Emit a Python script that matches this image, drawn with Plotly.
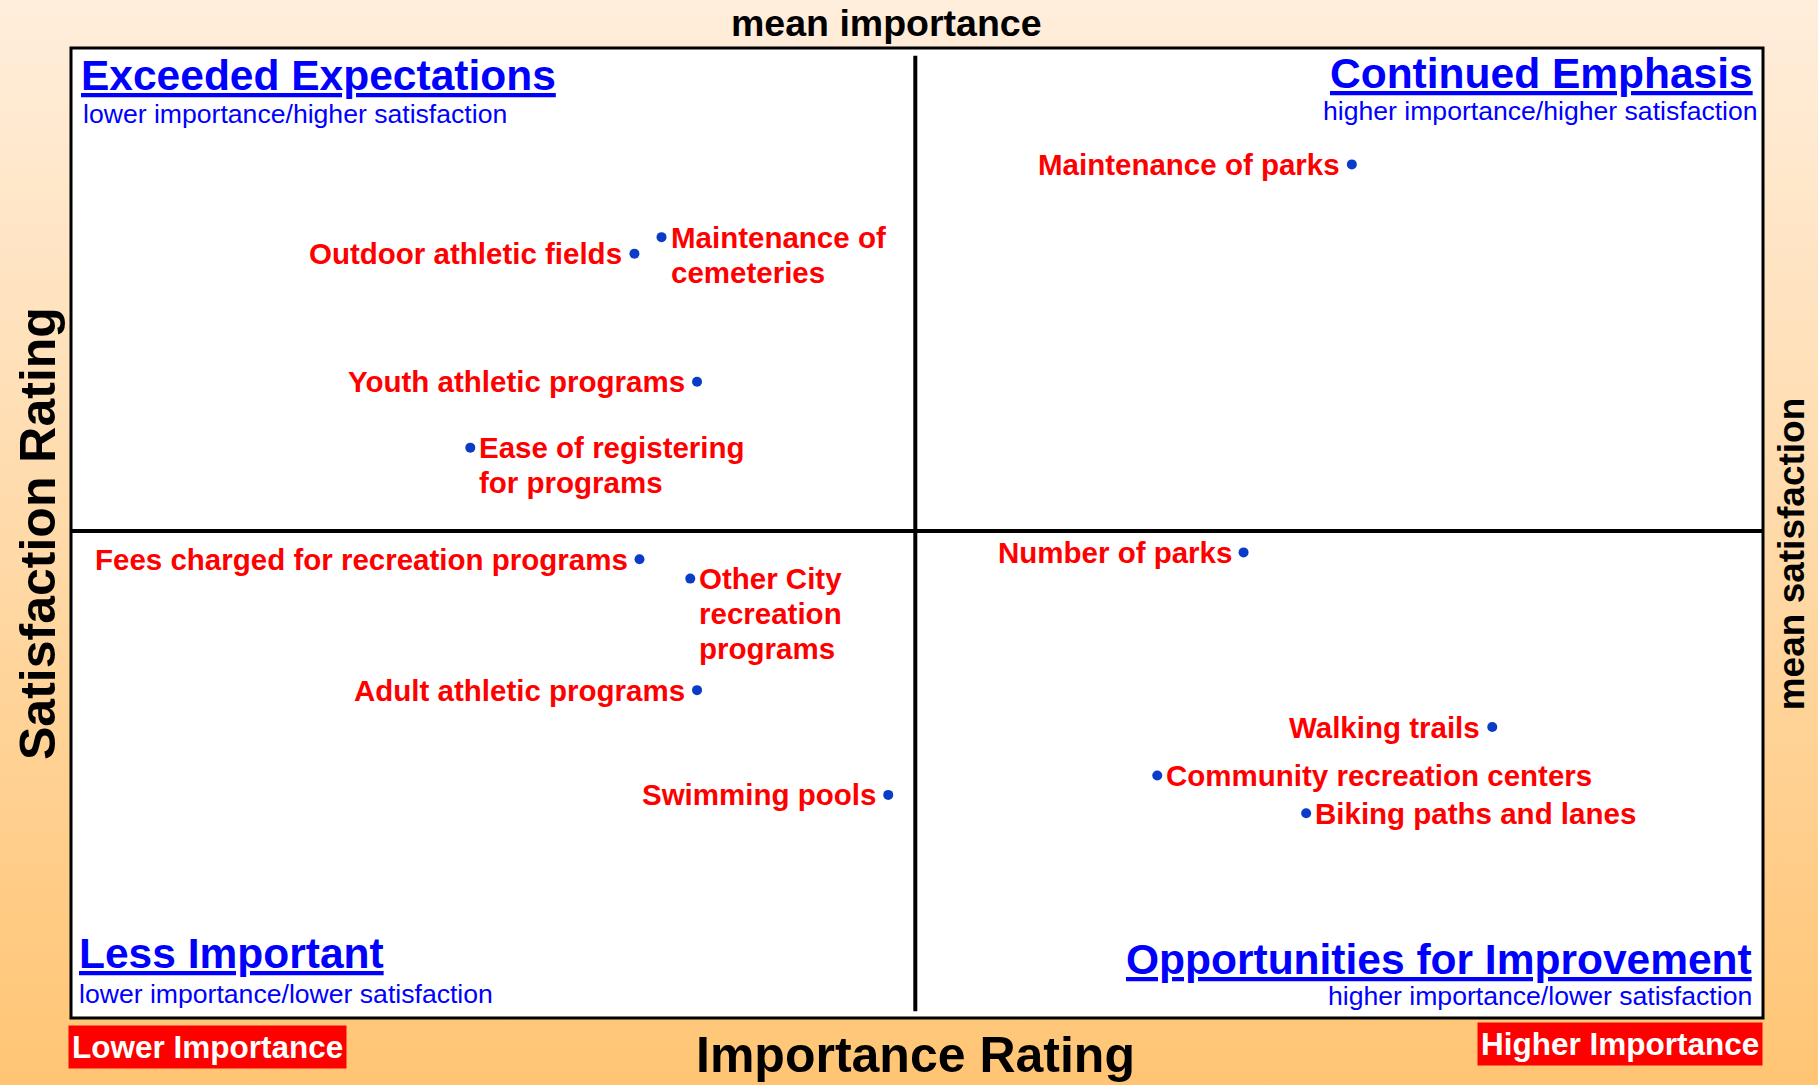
import base64

import plotly.graph_objects as go

# importance (x) / satisfaction (y) on a 0-100 index
items = [
    "Maintenance of parks",
    "Outdoor athletic fields",
    "Maintenance of<br>cemeteries",
    "Youth athletic programs",
    "Ease of registering<br>for programs",
    "Fees charged for recreation programs",
    "Other City<br>recreation<br>programs",
    "Adult athletic programs",
    "Swimming pools",
    "Number of parks",
    "Walking trails",
    "Community recreation centers",
    "Biking paths and lanes",
]
importance = [75.7, 33.3, 34.9, 37.0, 23.6, 33.6, 36.6, 37.0, 48.3, 69.3, 84.0, 64.2, 73.0]
satisfaction = [88.0, 78.8, 80.5, 65.6, 58.8, 47.3, 45.3, 33.8, 23.0, 48.0, 30.0, 25.0, 21.1]
mean_importance = 49.9
mean_satisfaction = 50.2

# which side of the dot the label sits on
label_side = ["left", "left", "right", "left", "right", "left", "right",
              "left", "left", "left", "left", "right", "right"]

# title, subtitle, anchor side, title x/y, subtitle x/y (paper coords)
quadrants = [
    ("Exceeded Expectations", "lower importance/higher satisfaction", "left",
     0.0046, 0.972, 0.006, 0.932),
    ("Continued Emphasis", "higher importance/higher satisfaction", "right",
     0.9954, 0.974, 0.9981, 0.935),
    ("Less Important", "lower importance/lower satisfaction", "left",
     0.0035, 0.066, 0.0035, 0.025),
    ("Opportunities for Improvement", "higher importance/lower satisfaction", "right",
     0.9944, 0.060, 0.9944, 0.023),
]

FONT = "Liberation Sans, Arial, Helvetica, sans-serif"
W, H = 1818, 1085
ML, MR, MT, MB = 71, 55, 48, 67
PW, PH = W - ML - MR, H - MT - MB

svg = (
    '<svg xmlns="http://www.w3.org/2000/svg" width="100" height="100" preserveAspectRatio="none">'
    '<defs><linearGradient id="g" x1="0" y1="0" x2="0" y2="1">'
    '<stop offset="0" stop-color="#FFEEDC"/><stop offset="1" stop-color="#FFC574"/>'
    '</linearGradient></defs><rect width="100" height="100" fill="url(#g)"/></svg>'
)
bg_uri = "data:image/svg+xml;base64," + base64.b64encode(svg.encode()).decode()

fig = go.Figure()
fig.add_scatter(
    x=importance, y=satisfaction, mode="markers",
    marker=dict(size=10, color="#0a3cc8"), hoverinfo="skip", showlegend=False,
)

annotations = []
for name, x, y, side in zip(items, importance, satisfaction, label_side):
    # one annotation per line so the line spacing matches the original
    for i, line in enumerate(name.split("<br>")):
        annotations.append(dict(
            x=x, y=y, text=f"<b>{line}</b>", showarrow=False,
            xanchor="right" if side == "left" else "left",
            yanchor="middle", xshift=-10 if side == "left" else 7,
            yshift=-i * 35,
            font=dict(family=FONT, size=29.5, color="#FF0000"),
        ))

for title, sub, side, tx, ty, sx, sy in quadrants:
    annotations.append(dict(
        xref="paper", yref="paper", x=tx, y=ty, text=f"<b><u>{title}</u></b>",
        showarrow=False, xanchor=side, yanchor="middle",
        font=dict(family=FONT, size=42.5, color="#0000FF"),
    ))
    annotations.append(dict(
        xref="paper", yref="paper", x=sx, y=sy, text=sub,
        showarrow=False, xanchor=side, yanchor="middle",
        font=dict(family=FONT, size=26.6, color="#0000FF"),
    ))

annotations += [
    dict(xref="paper", yref="paper", x=0.482, y=1.026, text="<b>mean importance</b>",
         xanchor="center", yanchor="middle", showarrow=False,
         font=dict(family=FONT, size=37.5, color="black")),
    dict(xref="paper", yref="paper", x=0.499, y=-0.046, yshift=8, text="<b>Importance Rating</b>",
         xanchor="center", yanchor="middle", showarrow=False,
         font=dict(family=FONT, size=50, color="black")),
    dict(xref="paper", yref="paper", x=-0.0195, y=0.499, text="<b>Satisfaction Rating</b>",
         textangle=-90, xanchor="center", yanchor="middle", showarrow=False,
         font=dict(family=FONT, size=50, color="black")),
    dict(xref="paper", yref="paper", x=1.0165, y=0.479, text="<b>mean satisfaction</b>",
         textangle=-90, xanchor="center", yanchor="middle", showarrow=False,
         font=dict(family=FONT, size=37, color="black")),
    dict(xref="paper", yref="paper", x=-0.002, y=0, yshift=-7, text="<b>Lower Importance</b>",
         xanchor="left", yanchor="top", showarrow=False, bgcolor="#FF0000", borderpad=3,
         font=dict(family=FONT, size=31.5, color="white")),
    dict(xref="paper", yref="paper", x=1.0, y=0, yshift=-4, text="<b>Higher Importance</b>",
         xanchor="right", yanchor="top", showarrow=False, bgcolor="#FF0000", borderpad=3,
         font=dict(family=FONT, size=31.5, color="white")),
]

shapes = [
    dict(type="rect", xref="paper", yref="paper", x0=0, x1=1, y0=0, y1=1,
         fillcolor="white", line=dict(color="black", width=3), layer="below"),
    dict(type="line", xref="x", yref="paper", x0=mean_importance, x1=mean_importance,
         y0=0.007, y1=0.992, line=dict(color="black", width=4), layer="below"),
    dict(type="line", xref="paper", yref="y", x0=0, x1=1, y0=mean_satisfaction,
         y1=mean_satisfaction, line=dict(color="black", width=4), layer="below"),
]

fig.update_layout(
    width=W, height=H,
    margin=dict(l=ML, r=MR, t=MT, b=MB),
    paper_bgcolor="#FFD9A8",
    plot_bgcolor="white",
    xaxis=dict(range=[0, 100], visible=False, fixedrange=True),
    yaxis=dict(range=[0, 100], visible=False, fixedrange=True),
    annotations=annotations,
    shapes=shapes,
    images=[dict(source=bg_uri, xref="paper", yref="paper", x=-ML / PW, y=1 + MT / PH,
                 sizex=W / PW, sizey=H / PH, sizing="stretch", xanchor="left",
                 yanchor="top", layer="below")],
)

fig.write_html(
    "out.html",
    config={"displayModeBar": False},
    post_script="document.body.style.margin = '0px';",
)
